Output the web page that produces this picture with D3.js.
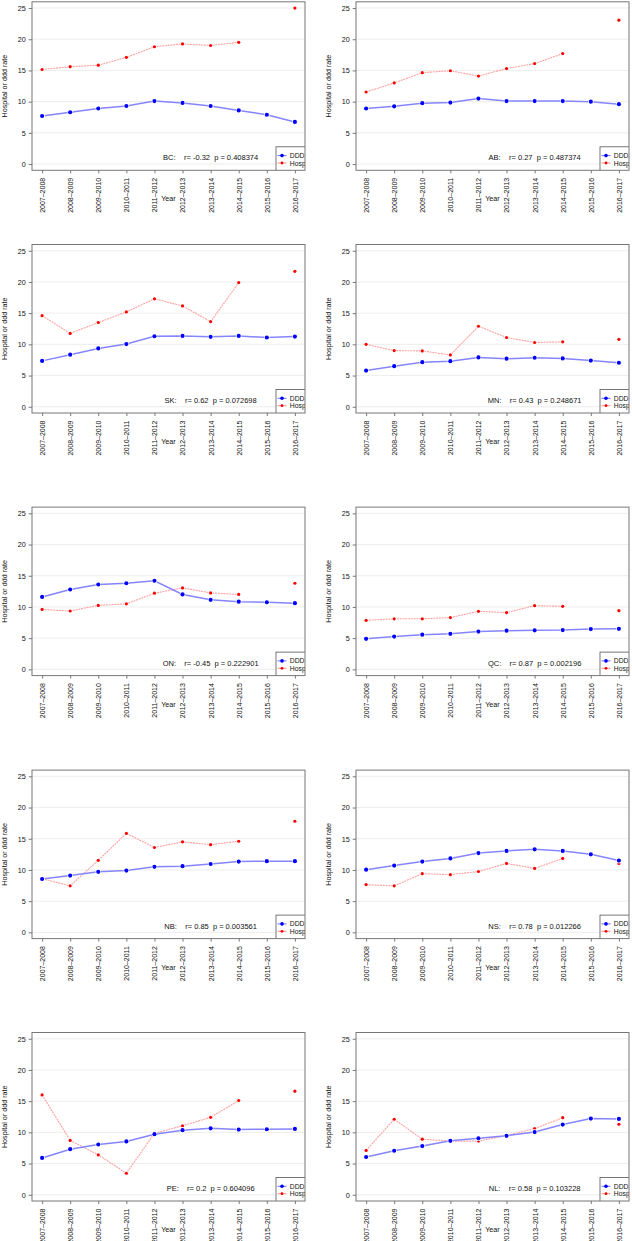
<!DOCTYPE html>
<html>
<head>
<meta charset="utf-8">
<script src="https://cdn.jsdelivr.net/npm/d3@7"></script>
<style>
body { margin: 0; background: #fff; }
text { font-family: "Liberation Sans", Arial, sans-serif; }
</style>
</head>
<body>
<div id="chart"></div>
<script>
var years = ["2007–2008","2008–2009","2009–2010","2010–2011","2011–2012",
             "2012–2013","2013–2014","2014–2015","2015–2016","2016–2017"];
var provinces = ["BC","AB","SK","MN","ON","QC","NB","NS","PE","NL"];

// DDD and hospital rates (null = no value)
var dddBC  = [7.7, 8.3, 8.9, 9.3, 10.1, 9.8, 9.3, 8.6, 7.9, 6.75];
var hospBC = [15.15, 15.6, 15.85, 17.1, 18.8, 19.25, 19.0, 19.5, null, 25.0];
var dddAB  = [8.9, 9.25, 9.75, 9.85, 10.5, 10.1, 10.1, 10.1, 10.0, 9.6];
var hospAB = [11.55, 13.0, 14.65, 14.95, 14.1, 15.3, 16.1, 17.7, null, 23.05];
var dddSK  = [7.35, 8.35, 9.35, 10.05, 11.3, 11.35, 11.2, 11.35, 11.1, 11.25];
var hospSK = [14.6, 11.75, 13.5, 15.2, 17.3, 16.15, 13.65, 19.9, null, 21.7];
var dddMN  = [5.8, 6.5, 7.15, 7.3, 7.9, 7.7, 7.85, 7.75, 7.4, 7.05];
var hospMN = [10.0, 9.0, 8.95, 8.3, 12.9, 11.1, 10.3, 10.4, null, 10.8];
var dddON  = [11.6, 12.8, 13.6, 13.8, 14.2, 12.0, 11.15, 10.85, 10.75, 10.6];
var hospON = [9.6, 9.35, 10.25, 10.5, 12.2, 13.05, 12.25, 12.0, null, 13.8];
var dddQC  = [4.9, 5.25, 5.55, 5.7, 6.05, 6.2, 6.25, 6.3, 6.45, 6.5];
var hospQC = [7.85, 8.1, 8.1, 8.3, 9.3, 9.1, 10.2, 10.1, null, 9.4];
var dddNB  = [8.55, 9.1, 9.7, 9.9, 10.5, 10.6, 10.95, 11.35, 11.4, 11.4];
var hospNB = [8.6, 7.45, 11.55, 15.85, 13.6, 14.5, 14.05, 14.6, null, 17.8];
var dddNS  = [10.05, 10.7, 11.35, 11.85, 12.7, 13.05, 13.3, 13.05, 12.5, 11.5];
var hospNS = [7.65, 7.45, 9.4, 9.25, 9.75, 11.05, 10.25, 11.85, null, 11.05];
var dddPE  = [5.9, 7.3, 8.05, 8.55, 9.7, 10.35, 10.65, 10.45, 10.5, 10.55];
var hospPE = [16.0, 8.7, 6.4, 3.45, 9.85, 11.05, 12.4, 15.1, null, 16.6];
var dddNL  = [6.05, 7.05, 7.8, 8.65, 9.05, 9.45, 10.05, 11.25, 12.2, 12.15];
var hospNL = [7.1, 12.1, 8.9, 8.6, 8.6, 9.5, 10.6, 12.35, null, 11.3];

var rValues = ["-0.32","0.27","0.62","0.43","-0.45","0.87","0.85","0.78","0.2","0.58"];
var pValues = ["0.408374","0.487374","0.072698","0.248671","0.222901",
               "0.002196","0.003561","0.012266","0.604096","0.103228"];
var yTicks = [0, 5, 10, 15, 20, 25];

var dddSeries  = [dddBC, dddAB, dddSK, dddMN, dddON, dddQC, dddNB, dddNS, dddPE, dddNL];
var hospSeries = [hospBC, hospAB, hospSK, hospMN, hospON, hospQC, hospNB, hospNS, hospPE, hospNL];

var width = 632, height = 1241;
var colLeft = [32, 356];
var rowTop = [1.8, 244.5, 507.1, 770.1, 1032.5];
var boxW = 273, boxH = 168.5;
var fontSize = 7.2;

var svg = d3.select("#chart").append("svg")
    .attr("width", width)
    .attr("height", height)
    .style("display", "block");

svg.append("rect").attr("width", width).attr("height", height).attr("fill", "#fff");

for (var i = 0; i < provinces.length; i++) {
  drawPanel(i);
}

function drawPanel(i) {
  var col = i % 2, row = Math.floor(i / 2);
  var L = colLeft[col], T = rowTop[row];
  var x = d3.scaleLinear().domain([0.64, 10.36]).range([L, L + boxW]);
  var y = d3.scaleLinear().domain([-1, 26]).range([T + boxH, T]);
  var g = svg.append("g");

  var clipId = "clip" + i;
  g.append("clipPath").attr("id", clipId)
    .append("rect").attr("x", L).attr("y", T).attr("width", boxW).attr("height", boxH);

  var plot = g.append("g").attr("clip-path", "url(#" + clipId + ")");

  // faint grid lines
  plot.selectAll(".grid")
    .data(yTicks)
    .enter()
    .append("line")
    .attr("x1", L).attr("x2", L + boxW)
    .attr("y1", function(d) { return y(d); })
    .attr("y2", function(d) { return y(d); })
    .attr("stroke", "#e8e8e8")
    .attr("stroke-width", 0.8);

  var ddd = dddSeries[i].map(function(v, k) { return {x: k + 1, y: v}; });
  var hosp = hospSeries[i].map(function(v, k) { return {x: k + 1, y: v}; });

  var line = d3.line()
    .defined(function(d) { return d.y != null; })
    .x(function(d) { return x(d.x); })
    .y(function(d) { return y(d.y); });

  plot.append("path")
    .attr("d", line(hosp))
    .attr("fill", "none")
    .attr("stroke", "#ffa0a0")
    .attr("stroke-width", 1.1)
    .attr("stroke-dasharray", "2,0.8");

  plot.append("path")
    .attr("d", line(ddd))
    .attr("fill", "none")
    .attr("stroke", "#8585ff")
    .attr("stroke-width", 1.5);

  plot.selectAll(".hp")
    .data(hosp.filter(function(d) { return d.y != null; }))
    .enter()
    .append("circle")
    .attr("cx", function(d) { return x(d.x); })
    .attr("cy", function(d) { return y(d.y); })
    .attr("r", 1.6)
    .attr("fill", "#ff0000")
    .attr("stroke", "#fff")
    .attr("stroke-width", 1.2)
    .attr("paint-order", "stroke");

  plot.selectAll(".dp")
    .data(ddd)
    .enter()
    .append("circle")
    .attr("cx", function(d) { return x(d.x); })
    .attr("cy", function(d) { return y(d.y); })
    .attr("r", 2.1)
    .attr("fill", "#0000ff")
    .attr("stroke", "#fff")
    .attr("stroke-width", 1.4)
    .attr("paint-order", "stroke");

  // correlation text
  plot.append("text")
    .attr("x", x(7))
    .attr("y", y(1))
    .attr("text-anchor", "middle")
    .attr("dominant-baseline", "central")
    .attr("xml:space", "preserve")
    .style("white-space", "pre")
    .attr("font-size", fontSize + 0.3)
    .attr("fill", "#111")
    .text(provinces[i] + ":    r= " + rValues[i] + "  p = " + pValues[i]);

  // legend (runs past the right edge of the box and is clipped)
  var lx = L + boxW - 29, ly = T + boxH - 23.5;
  plot.append("rect")
    .attr("x", lx).attr("y", ly)
    .attr("width", 60).attr("height", 30)
    .attr("fill", "#fff")
    .attr("stroke", "#555")
    .attr("stroke-width", 0.8);

  var items = [
    {name: "DDD", line: "#6f6fff", dot: "#0000ff", r: 1.8, dy: 8.8},
    {name: "Hosp", line: "#ff8c8c", dot: "#ff0000", r: 1.4, dy: 16.2}
  ];
  items.forEach(function(it) {
    plot.append("line")
      .attr("x1", lx + 1.5).attr("x2", lx + 10.5)
      .attr("y1", ly + it.dy).attr("y2", ly + it.dy)
      .attr("stroke", it.line).attr("stroke-width", 1);
    plot.append("circle")
      .attr("cx", lx + 6).attr("cy", ly + it.dy)
      .attr("r", it.r).attr("fill", it.dot);
    plot.append("text")
      .attr("x", lx + 13.8).attr("y", ly + it.dy)
      .attr("dominant-baseline", "central")
      .attr("font-size", 6.8)
      .attr("fill", "#111")
      .text(it.name);
  });

  // box
  g.append("rect")
    .attr("x", L).attr("y", T)
    .attr("width", boxW).attr("height", boxH)
    .attr("fill", "none")
    .attr("stroke", "#777")
    .attr("stroke-width", 1);

  // y axis
  var yAxis = d3.axisLeft(y).tickValues(yTicks).tickSize(3.3).tickPadding(3);
  var ya = g.append("g").attr("transform", "translate(" + L + ",0)").call(yAxis);
  ya.select(".domain").remove();
  ya.selectAll("line").attr("stroke", "#777");
  ya.selectAll("text").attr("font-size", fontSize).attr("fill", "#111")
    .style("font-family", "'Liberation Sans', Arial, sans-serif");

  // x axis
  var xAxis = d3.axisBottom(x).tickValues(d3.range(1, 11))
    .tickFormat(function(d) { return years[d - 1]; })
    .tickSize(3);
  var xa = g.append("g").attr("transform", "translate(0," + (T + boxH) + ")").call(xAxis);
  xa.select(".domain").remove();
  xa.selectAll("line").attr("stroke", "#777");
  xa.selectAll("text")
    .attr("font-size", fontSize - 0.2)
    .attr("fill", "#111")
    .style("font-family", "'Liberation Sans', Arial, sans-serif")
    .attr("y", 0)
    .attr("x", -7.5)
    .attr("dy", "0.35em")
    .attr("transform", "rotate(-90)")
    .style("text-anchor", "end");

  // axis titles
  g.append("text")
    .attr("transform", "translate(" + (L - 27.5) + "," + (T + boxH / 2) + ") rotate(-90)")
    .attr("text-anchor", "middle")
    .attr("dominant-baseline", "central")
    .attr("font-size", fontSize)
    .attr("fill", "#111")
    .text("Hospital or ddd rate");

  g.append("text")
    .attr("x", L + boxW / 2)
    .attr("y", T + boxH + 28.5)
    .attr("text-anchor", "middle")
    .attr("dominant-baseline", "central")
    .attr("font-size", fontSize)
    .attr("fill", "#111")
    .text("Year");
}
</script>
</body>
</html>
